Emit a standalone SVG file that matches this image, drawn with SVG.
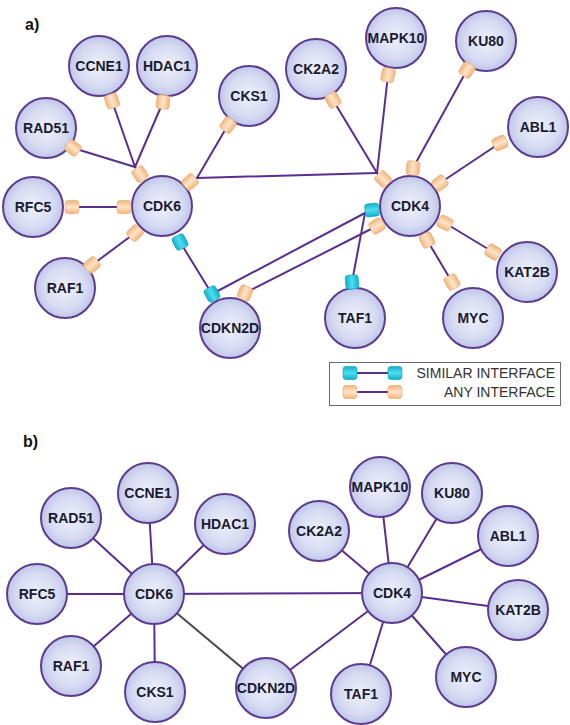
<svg xmlns="http://www.w3.org/2000/svg" width="570" height="725" viewBox="0 0 570 725">
<style>
.edge{stroke:#5b2d8e;stroke-width:2;fill:none;stroke-linecap:round}
.edge.gray{stroke:#4d4a5a}
.node circle{fill:url(#nodeFill);stroke:#5e3b8f;stroke-width:2}
.node text{font-family:"Liberation Sans",Arial,sans-serif;font-weight:bold;font-size:14px;fill:#1a1a33;text-anchor:middle}
.panel{font-family:"Liberation Sans",Arial,sans-serif;font-weight:bold;font-size:16px;fill:#111}
.legend text{font-family:"Liberation Sans",Arial,sans-serif;font-size:14px;fill:#333;text-anchor:end}
</style>
<defs>
<radialGradient id="nodeFill" cx="50%" cy="50%" r="50%">
<stop offset="0" stop-color="#eef0fa"/>
<stop offset="0.7" stop-color="#d6dbf2"/>
<stop offset="1" stop-color="#bec6ea"/>
</radialGradient>
<linearGradient id="gOr" x1="0" y1="0" x2="0" y2="1">
<stop offset="0" stop-color="#f2b57c"/>
<stop offset="0.5" stop-color="#fde4c8"/>
<stop offset="1" stop-color="#f2b57c"/>
</linearGradient>
<linearGradient id="gCy" x1="0" y1="0" x2="0" y2="1">
<stop offset="0" stop-color="#0fb2cd"/>
<stop offset="0.5" stop-color="#4fdcee"/>
<stop offset="1" stop-color="#0fb2cd"/>
</linearGradient>
<g id="mo"><rect x="-7" y="-6.5" width="14" height="13" rx="3" fill="url(#gOr)" stroke="#eda66a" stroke-width="0.6"/></g>
<g id="mc"><rect x="-7" y="-6.5" width="14" height="13" rx="3" fill="url(#gCy)" stroke="#0a9fb9" stroke-width="0.6"/></g>
</defs>
<rect width="570" height="725" fill="#ffffff"/>
<text class="panel" x="25" y="30">a)</text>
<text class="panel" x="23" y="447">b)</text>

<g id="connectors">
<!-- panel a -->
<path class="edge" d="M112,101 L135,167"/>
<path class="edge" d="M163,102 L135,167"/>
<path class="edge" d="M73,148 L135,167"/>
<path class="edge" d="M135,167 L140,174"/>
<path class="edge" d="M228,125 L197,178"/>
<path class="edge" d="M197,178 L190,182"/>
<path class="edge" d="M197,178 L377,173"/>
<path class="edge" d="M333,100 L377,173"/>
<path class="edge" d="M388,75 L377,173"/>
<path class="edge" d="M377,173 L383,179"/>
<path class="edge" d="M467,70 L413,168"/>
<path class="edge" d="M500,143 L440,183"/>
<path class="edge" d="M493,252 L445,223"/>
<path class="edge" d="M452,282 L427,240"/>
<path class="edge" d="M72,207 L124,207"/>
<path class="edge" d="M92,265 L135,233"/>
<path class="edge" d="M180,242 L212,294"/>
<path class="edge" d="M212,294 L365,213"/>
<path class="edge" d="M352,282 L365,213"/>
<path class="edge" d="M365,213 L372,210"/>
<path class="edge" d="M245,293 L377,226"/>
<!-- panel b -->
<path class="edge" d="M154,594 L71,518"/>
<path class="edge" d="M154,594 L148,493"/>
<path class="edge" d="M154,594 L225,524"/>
<path class="edge" d="M154,594 L37,594"/>
<path class="edge" d="M154,594 L71,666"/>
<path class="edge" d="M154,594 L155,692"/>
<path class="edge" d="M154,594 L392,593"/>
<path class="edge gray" d="M154,594 L266,688"/>
<path class="edge" d="M392,593 L319,531"/>
<path class="edge" d="M392,593 L380,487"/>
<path class="edge" d="M392,593 L452,493"/>
<path class="edge" d="M392,593 L508,536"/>
<path class="edge" d="M392,593 L518,610"/>
<path class="edge" d="M392,593 L466,677"/>
<path class="edge" d="M392,593 L361,694"/>
<path class="edge" d="M392,593 L266,688"/>
</g>

<!-- panel a nodes -->
<g id="a-CCNE1" class="node"><circle cx="99" cy="66" r="30"/><text x="99" y="71">CCNE1</text></g>
<g id="a-HDAC1" class="node"><circle cx="167" cy="66" r="30"/><text x="167" y="71">HDAC1</text></g>
<g id="a-CKS1" class="node"><circle cx="249" cy="96" r="30"/><text x="249" y="101">CKS1</text></g>
<g id="a-RAD51" class="node"><circle cx="46" cy="128" r="30"/><text x="46" y="133">RAD51</text></g>
<g id="a-CDK6" class="node"><circle cx="162" cy="206" r="30"/><text x="162" y="211">CDK6</text></g>
<g id="a-RFC5" class="node"><circle cx="33" cy="207" r="30"/><text x="33" y="212">RFC5</text></g>
<g id="a-RAF1" class="node"><circle cx="65" cy="288" r="30"/><text x="65" y="293">RAF1</text></g>
<g id="a-CDKN2D" class="node"><circle cx="230" cy="328" r="30"/><text x="230" y="333">CDKN2D</text></g>
<g id="a-CK2A2" class="node"><circle cx="316" cy="69" r="30"/><text x="316" y="74">CK2A2</text></g>
<g id="a-MAPK10" class="node"><circle cx="396" cy="38" r="30"/><text x="396" y="43">MAPK10</text></g>
<g id="a-KU80" class="node"><circle cx="486" cy="41" r="30"/><text x="486" y="46">KU80</text></g>
<g id="a-ABL1" class="node"><circle cx="538" cy="127" r="30"/><text x="538" y="132">ABL1</text></g>
<g id="a-CDK4" class="node"><circle cx="410" cy="206" r="30"/><text x="410" y="211">CDK4</text></g>
<g id="a-KAT2B" class="node"><circle cx="527" cy="272" r="30"/><text x="527" y="277">KAT2B</text></g>
<g id="a-TAF1" class="node"><circle cx="355" cy="318" r="30"/><text x="355" y="323">TAF1</text></g>
<g id="a-MYC" class="node"><circle cx="473" cy="318" r="30"/><text x="473" y="323">MYC</text></g>

<g id="interfaces">
<use href="#mo" transform="translate(140,174) rotate(-124)"/>
<use href="#mo" transform="translate(190,182) rotate(-41)"/>
<use href="#mo" transform="translate(124,207) rotate(180)"/>
<use href="#mo" transform="translate(135,233) rotate(135)"/>
<use href="#mc" transform="translate(180,242) rotate(63)"/>
<use href="#mo" transform="translate(112,101) rotate(70)"/>
<use href="#mo" transform="translate(163,102) rotate(96)"/>
<use href="#mo" transform="translate(73,148) rotate(37)"/>
<use href="#mo" transform="translate(228,125) rotate(126)"/>
<use href="#mo" transform="translate(72,207) rotate(0)"/>
<use href="#mo" transform="translate(92,265) rotate(-40)"/>
<use href="#mc" transform="translate(212,294) rotate(-118)"/>
<use href="#mo" transform="translate(245,293) rotate(-67)"/>
<use href="#mo" transform="translate(383,179) rotate(-135)"/>
<use href="#mo" transform="translate(413,168) rotate(-85)"/>
<use href="#mo" transform="translate(440,183) rotate(-37)"/>
<use href="#mo" transform="translate(445,223) rotate(26)"/>
<use href="#mo" transform="translate(427,240) rotate(63)"/>
<use href="#mc" transform="translate(372,210) rotate(174)"/>
<use href="#mo" transform="translate(377,226) rotate(149)"/>
<use href="#mo" transform="translate(333,100) rotate(61)"/>
<use href="#mo" transform="translate(388,75) rotate(102)"/>
<use href="#mo" transform="translate(467,70) rotate(123)"/>
<use href="#mo" transform="translate(500,143) rotate(157)"/>
<use href="#mo" transform="translate(493,252) rotate(-150)"/>
<use href="#mo" transform="translate(452,282) rotate(-120)"/>
<use href="#mc" transform="translate(352,282) rotate(-95)"/>
</g>

<g id="legend" class="legend">
<rect x="329.5" y="362.5" width="231" height="43" fill="#ffffff" stroke="#6a6a6a" stroke-width="1"/>
<path class="edge" d="M350,373 L395,373"/>
<use href="#mc" transform="translate(350,373)"/>
<use href="#mc" transform="translate(395,373)"/>
<text x="555" y="378">SIMILAR INTERFACE</text>
<path class="edge" d="M350,392 L395,392"/>
<use href="#mo" transform="translate(350,392)"/>
<use href="#mo" transform="translate(395,392)"/>
<text x="555" y="397">ANY INTERFACE</text>
</g>

<!-- panel b nodes -->
<g id="b-RAD51" class="node"><circle cx="71" cy="518" r="30"/><text x="71" y="523">RAD51</text></g>
<g id="b-CCNE1" class="node"><circle cx="148" cy="493" r="30"/><text x="148" y="498">CCNE1</text></g>
<g id="b-HDAC1" class="node"><circle cx="225" cy="524" r="30"/><text x="225" y="529">HDAC1</text></g>
<g id="b-RFC5" class="node"><circle cx="37" cy="594" r="30"/><text x="37" y="599">RFC5</text></g>
<g id="b-CDK6" class="node"><circle cx="154" cy="594" r="30"/><text x="154" y="599">CDK6</text></g>
<g id="b-RAF1" class="node"><circle cx="71" cy="666" r="30"/><text x="71" y="671">RAF1</text></g>
<g id="b-CKS1" class="node"><circle cx="155" cy="692" r="30"/><text x="155" y="697">CKS1</text></g>
<g id="b-CDKN2D" class="node"><circle cx="266" cy="688" r="30"/><text x="266" y="693">CDKN2D</text></g>
<g id="b-CK2A2" class="node"><circle cx="319" cy="531" r="30"/><text x="319" y="536">CK2A2</text></g>
<g id="b-MAPK10" class="node"><circle cx="380" cy="487" r="30"/><text x="380" y="492">MAPK10</text></g>
<g id="b-KU80" class="node"><circle cx="452" cy="493" r="30"/><text x="452" y="498">KU80</text></g>
<g id="b-ABL1" class="node"><circle cx="508" cy="536" r="30"/><text x="508" y="541">ABL1</text></g>
<g id="b-CDK4" class="node"><circle cx="392" cy="593" r="30"/><text x="392" y="598">CDK4</text></g>
<g id="b-KAT2B" class="node"><circle cx="518" cy="610" r="30"/><text x="518" y="615">KAT2B</text></g>
<g id="b-MYC" class="node"><circle cx="466" cy="677" r="30"/><text x="466" y="682">MYC</text></g>
<g id="b-TAF1" class="node"><circle cx="361" cy="694" r="30"/><text x="361" y="699">TAF1</text></g>
</svg>
